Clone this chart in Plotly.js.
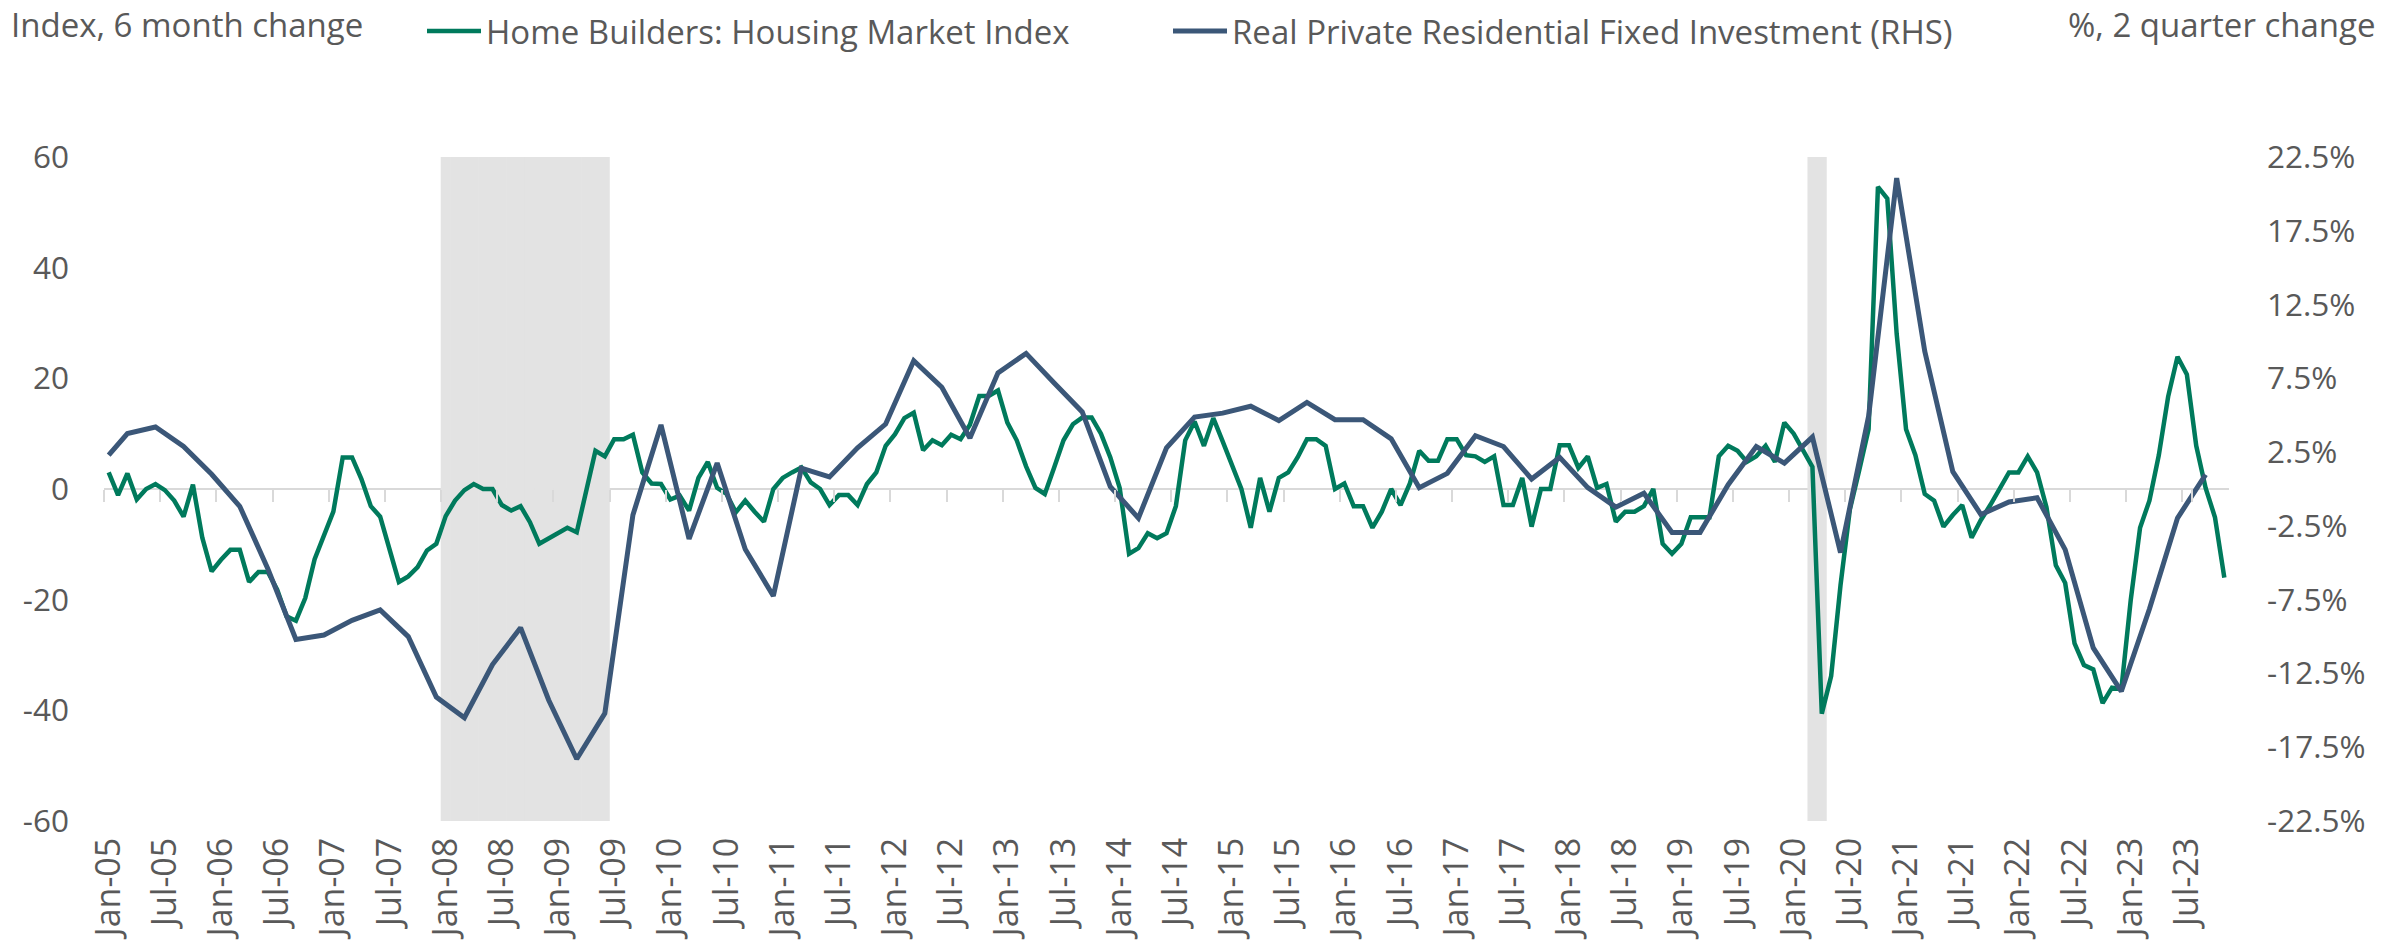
<!DOCTYPE html>
<html>
<head>
<meta charset="utf-8">
<script src="https://cdn.plot.ly/plotly-3.0.1.min.js"></script>
<style>
html, body { margin: 0; padding: 0; background: #ffffff; }
#chart { width: 2407px; height: 947px; }
</style>
</head>
<body>
<div id="chart"></div>
<script>
// ---------- categories ----------
const monthNames = ['Jan','Feb','Mar','Apr','May','Jun','Jul','Aug','Sep','Oct','Nov','Dec'];
const firstYear = 2005;
const monthCount = 227; // Jan-05 .. Nov-23
const months = [];
for (let i = 0; i < monthCount; i++) {
  const yr = firstYear + Math.floor(i / 12);
  months.push(monthNames[i % 12] + '-' + String(yr % 100).padStart(2, '0'));
}
const tickMonths = months.filter(m => m.startsWith('Jan') || m.startsWith('Jul'));

// ---------- series 1: NAHB Housing Market Index, 6 month change (monthly, left axis) ----------
const hmiChange = [
  3.0, -1.1, 2.8, -1.9, 0, 0.9, -0.2, -2.1, -5.0, 0.8, -8.8, -14.9,
  -12.8, -11.0, -11.0, -16.8, -15.0, -15.0, -18.2, -23.0, -23.8, -19.7, -12.7, -8.4,
  -4.1, 5.7, 5.7, 1.8, -3.1, -5.0, -11.1, -16.8, -15.8, -14.1, -11.1, -9.9,
  -4.9, -2.1, -0.2, 0.9, 0, 0, -2.9, -3.9, -3.1, -6.0, -9.9, -9.0,
  -8.0, -7.0, -7.8, -0.2, 6.9, 5.9, 9.0, 9.0, 9.8, 3.0, 1.0, 0.9,
  -1.9, -1.2, -3.9, 2.0, 4.9, 0.2, -0.9, -4.2, -2.1, -4.1, -5.9, 0,
  2.0, 3.0, 3.9, 1.2, 0, -2.9, -1.1, -1.1, -2.9, 0.9, 3.0, 7.8,
  9.9, 12.8, 13.8, 7.0, 8.8, 7.9, 9.8, 9.0, 11.6, 16.8, 16.8, 17.8,
  12.0, 8.8, 4.1, 0.2, -0.9, 3.9, 8.8, 11.7, 12.9, 12.9, 10.0, 5.7,
  0.2, -11.7, -10.7, -8.0, -8.9, -8.0, -3.1, 8.8, 12.2, 7.8, 12.8, 8.6,
  4.1, 0, -7.0, 2.0, -4.1, 2.0, 3.0, 5.7, 9.0, 9.0, 7.8, 0,
  1.0, -3.1, -3.1, -7.0, -4.1, 0, -2.9, 1.0, 6.9, 5.1, 5.1, 9.0,
  9.0, 6.1, 5.9, 4.9, 5.9, -2.9, -2.9, 2.0, -6.8, 0, 0, 7.9,
  7.9, 3.8, 5.9, 0.2, 0.9, -5.9, -4.1, -4.1, -3.1, 0, -9.9, -11.7,
  -9.9, -5.1, -5.1, -5.1, 5.9, 7.8, 6.9, 4.9, 5.9, 7.8, 4.9, 12.0,
  10.0, 6.9, 4.0, -40.6, -33.8, -17.4, -3.7, 3.4, 10.8, 54.6, 52.5, 28.0,
  10.8, 6.1, -0.9, -2.1, -6.8, -4.7, -2.9, -8.8, -5.6, -2.9, 0, 3.0,
  3.0, 5.9, 3.0, -3.3, -13.8, -17.0, -27.9, -31.8, -32.6, -38.7, -35.9, -36.2,
  -20.1, -7.0, -2.1, 6.1, 16.7, 23.9, 20.7, 7.8, 0.2, -5.1, -16.0
];

// ---------- series 2: Real Private Residential Fixed Investment, % 2 quarter change (right axis) ----------
const rprfiDates = [
  'Jan-05','Mar-05','Jun-05','Sep-05','Dec-05',
  'Mar-06','Jun-06','Sep-06','Dec-06',
  'Mar-07','Jun-07','Sep-07','Dec-07',
  'Mar-08','Jun-08','Sep-08','Dec-08',
  'Mar-09','Jun-09','Sep-09','Dec-09',
  'Mar-10','Jun-10','Sep-10','Dec-10',
  'Mar-11','Jun-11','Sep-11','Dec-11',
  'Mar-12','Jun-12','Sep-12','Dec-12',
  'Mar-13','Jun-13','Sep-13','Dec-13',
  'Mar-14','Jun-14','Sep-14','Dec-14',
  'Mar-15','Jun-15','Sep-15','Dec-15',
  'Mar-16','Jun-16','Sep-16','Dec-16',
  'Mar-17','Jun-17','Sep-17','Dec-17',
  'Mar-18','Jun-18','Sep-18','Dec-18',
  'Mar-19','Jun-19','Sep-19','Dec-19',
  'Mar-20','Jun-20','Sep-20','Dec-20',
  'Mar-21','Jun-21','Sep-21','Dec-21',
  'Mar-22','Jun-22','Sep-22','Dec-22',
  'Mar-23','Jun-23','Sep-23'
];
const rprfiChange = [
  2.29, 3.76, 4.20, 2.88, 1.0,
  -1.17, -5.4, -10.2, -9.9,
  -8.9, -8.2, -10.0, -14.1,
  -15.5, -11.9, -9.4, -14.3,
  -18.3, -15.2, -1.76, 4.34,
  -3.38, 1.76, -4.08, -7.25,
  1.41, 0.82, 2.79, 4.40,
  8.69, 6.90, 3.46, 7.87,
  9.19, 7.19, 5.22, 0.15,
  -1.97, 2.79, 4.87, 5.14,
  5.61, 4.64, 5.87, 4.70,
  4.70, 3.40, 0.09, 1.06,
  3.61, 2.88, 0.68, 2.14,
  0.09, -1.23, -0.29, -2.94,
  -2.94, 0.29, 2.88, 1.76,
  3.52, -4.31, 4.93, 21.07,
  9.33, 1.17, -1.73, -0.88,
  -0.59, -4.11, -10.77, -13.71,
  -8.13, -1.97, 0.97
];

// ---------- recessions (shaded) ----------
const recessionPeriods = [['Jan-08', 'Jun-09'], ['Mar-20', 'Apr-20']];
const recessionMonths = [];
recessionPeriods.forEach(([a, b]) => {
  for (let i = months.indexOf(a); i <= months.indexOf(b); i++) recessionMonths.push(months[i]);
});

// ---------- axis ticks ----------
const leftTicks = [-60, -40, -20, 0, 20, 40, 60];
const rightTicks = [-22.5, -17.5, -12.5, -7.5, -2.5, 2.5, 7.5, 12.5, 17.5, 22.5];
const leftRange = [-60, 60];
const rightRange = [-22.5, 22.5];

// ---------- labels ----------
const seriesNames = ['Home Builders: Housing Market Index', 'Real Private Residential Fixed Investment (RHS)'];
const leftTitle = 'Index, 6 month change';
const rightTitle = '%, 2 quarter change';

const FONT = 'Open Sans, Segoe UI, sans-serif';
const TXT = '#595959';
const GREEN = '#007A5C';
const BLUE = '#3B5778';

const traces = [
  {
    type: 'bar', x: recessionMonths, y: recessionMonths.map(() => leftRange[1] - leftRange[0]),
    base: leftRange[0], width: 1.06, marker: { color: '#E3E3E3', line: { width: 0 } },
    showlegend: false, hoverinfo: 'skip', xaxis: 'x', yaxis: 'y'
  },
  {
    type: 'scatter', mode: 'lines', name: seriesNames[0], x: months, y: hmiChange,
    line: { color: GREEN, width: 4.5 }, xaxis: 'x', yaxis: 'y', legend: 'legend'
  },
  {
    type: 'scatter', mode: 'lines', name: seriesNames[1], x: rprfiDates, y: rprfiChange,
    line: { color: BLUE, width: 5 }, xaxis: 'x2', yaxis: 'y2', legend: 'legend2'
  }
];

const catAxis = {
  type: 'category', categoryorder: 'array', categoryarray: months,
  range: [-0.5, monthCount - 0.5], autorange: false, fixedrange: true
};

const legendBase = {
  orientation: 'h', xref: 'container', yref: 'container',
  y: 1 - 3 / 947, xanchor: 'left', yanchor: 'top',
  font: { family: FONT, size: 33, color: TXT },
  itemwidth: 54, bgcolor: 'rgba(0,0,0,0)', borderwidth: 0
};

const layout = {
  width: 2407, height: 947,
  margin: { l: 104, r: 178, t: 157, b: 126, pad: 0 },
  paper_bgcolor: '#ffffff', plot_bgcolor: 'rgba(0,0,0,0)',
  font: { family: FONT, color: TXT, size: 33 },
  showlegend: true,
  barmode: 'overlay',
  hovermode: false,
  xaxis: Object.assign({}, catAxis, {
    tickmode: 'array', tickvals: tickMonths, ticktext: tickMonths,
    tickangle: -90, ticks: '', showline: false, showgrid: false, zeroline: false,
    tickfont: { family: FONT, size: 34, color: TXT },
    ticklabelstandoff: 9
  }),
  xaxis2: Object.assign({}, catAxis, {
    overlaying: 'x', anchor: 'free', position: 0.5, side: 'bottom',
    tickmode: 'array', tickvals: tickMonths, tickson: 'boundaries',
    ticks: 'outside', ticklen: 12, tickwidth: 2, tickcolor: '#D9D9D9',
    showticklabels: false, showline: false, showgrid: false, zeroline: false
  }),
  yaxis: {
    range: leftRange, autorange: false, tickmode: 'array', tickvals: leftTicks,
    ticktext: leftTicks.map(v => String(v)),
    ticks: '', showgrid: false, showline: false,
    zeroline: true, zerolinecolor: '#D9D9D9', zerolinewidth: 2,
    tickfont: { family: FONT, size: 31.5, color: TXT },
    ticklabelstandoff: 34, fixedrange: true
  },
  yaxis2: {
    overlaying: 'y', side: 'right', anchor: 'x',
    range: rightRange, autorange: false, tickmode: 'array', tickvals: rightTicks,
    ticktext: rightTicks.map(v => v.toFixed(1) + '%'),
    ticks: '', showgrid: false, showline: false, zeroline: false,
    tickfont: { family: FONT, size: 31.5, color: TXT },
    ticklabelstandoff: 37, fixedrange: true
  },
  legend: Object.assign({}, legendBase, { x: 422 / 2407 }),
  legend2: Object.assign({}, legendBase, { x: 1168 / 2407 }),
  annotations: [
    { text: leftTitle, xref: 'paper', yref: 'paper', x: (9 - 104) / 2125, y: (821 - 25) / 664,
      xanchor: 'left', yanchor: 'middle', showarrow: false, font: { family: FONT, size: 33, color: TXT } },
    { text: rightTitle, xref: 'paper', yref: 'paper', x: (2378 - 104) / 2125, y: (821 - 25) / 664,
      xanchor: 'right', yanchor: 'middle', showarrow: false, font: { family: FONT, size: 33, color: TXT } }
  ]
};

Plotly.newPlot('chart', traces, layout, { staticPlot: true, displayModeBar: false });
</script>
</body>
</html>
